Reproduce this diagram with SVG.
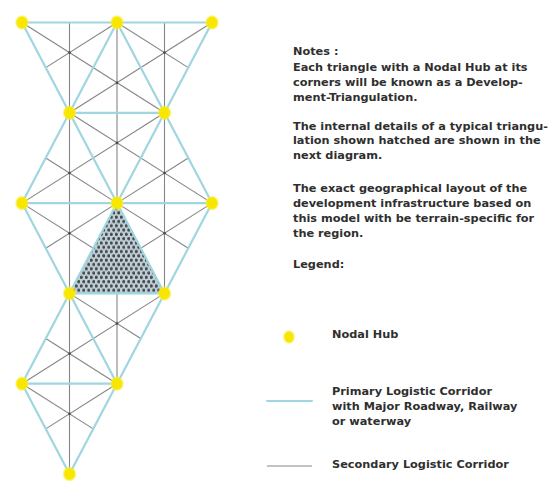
<svg xmlns="http://www.w3.org/2000/svg" width="556" height="481" viewBox="0 0 556 481">
<style>
.pri{stroke:#9fd6df;stroke-width:2.2;fill:none;stroke-linecap:round}
.sec{stroke:#858589;stroke-width:1.1;fill:none}
.cen{fill:#4a4a4e}
.hub{fill:url(#hubg)}
.t{font-family:"DejaVu Sans","Liberation Sans",sans-serif;font-weight:bold;font-size:11.3px;fill:#2f2f2f}
</style>
<defs>
<radialGradient id="hubg">
<stop offset="0" stop-color="#f7e600"/>
<stop offset="0.7" stop-color="#f8e800"/>
<stop offset="1" stop-color="#fbf060" stop-opacity="0.3"/>
</radialGradient>
<pattern id="dots" width="5" height="8.6" patternUnits="userSpaceOnUse">
<rect width="5" height="8.6" fill="#b9c9d1"/>
<circle cx="1.25" cy="2.15" r="1.6" fill="#353a40"/>
<circle cx="3.75" cy="6.45" r="1.6" fill="#353a40"/>
</pattern>
</defs>
<rect width="556" height="481" fill="#ffffff"/>
<g id="connectors">
<g id="secondary">
<line class="sec" x1="69.5" y1="22.5" x2="69.5" y2="474"/>
<line class="sec" x1="117" y1="22.5" x2="117" y2="383.7"/>
<line class="sec" x1="164.5" y1="22.5" x2="164.5" y2="293.4"/>
<line class="sec" x1="22" y1="22.5" x2="164.5" y2="112.8"/>
<line class="sec" x1="117" y1="22.5" x2="45.75" y2="67.65"/>
<line class="sec" x1="117" y1="22.5" x2="188.25" y2="67.65"/>
<line class="sec" x1="212" y1="22.5" x2="69.5" y2="112.8"/>
<line class="sec" x1="22" y1="203.1" x2="164.5" y2="112.8"/>
<line class="sec" x1="117" y1="203.1" x2="45.75" y2="157.95"/>
<line class="sec" x1="69.5" y1="112.8" x2="212" y2="203.1"/>
<line class="sec" x1="117" y1="203.1" x2="188.25" y2="157.95"/>
<line class="sec" x1="22" y1="203.1" x2="164.5" y2="293.4"/>
<line class="sec" x1="117" y1="203.1" x2="45.75" y2="248.25"/>
<line class="sec" x1="69.5" y1="293.4" x2="212" y2="203.1"/>
<line class="sec" x1="117" y1="203.1" x2="188.25" y2="248.25"/>
<line class="sec" x1="22" y1="383.7" x2="164.5" y2="293.4"/>
<line class="sec" x1="117" y1="383.7" x2="45.75" y2="338.55"/>
<line class="sec" x1="69.5" y1="293.4" x2="140.75" y2="338.55"/>
<line class="sec" x1="22" y1="383.7" x2="93.25" y2="428.85"/>
<line class="sec" x1="117" y1="383.7" x2="45.75" y2="428.85"/>
</g>
<g id="centroids">
<circle class="cen" cx="69.5" cy="52.6" r="1.3"/>
<circle class="cen" cx="164.5" cy="52.6" r="1.3"/>
<circle class="cen" cx="117" cy="82.7" r="1.3"/>
<circle class="cen" cx="69.5" cy="173" r="1.3"/>
<circle class="cen" cx="117" cy="142.9" r="1.3"/>
<circle class="cen" cx="164.5" cy="173" r="1.3"/>
<circle class="cen" cx="69.5" cy="233.2" r="1.3"/>
<circle class="cen" cx="164.5" cy="233.2" r="1.3"/>
<circle class="cen" cx="69.5" cy="353.6" r="1.3"/>
<circle class="cen" cx="117" cy="323.5" r="1.3"/>
<circle class="cen" cx="69.5" cy="413.8" r="1.3"/>
</g>
<polygon id="hatched" points="117,203.1 69.5,293.4 164.5,293.4" fill="url(#dots)" opacity="0.92"/>
<g id="primary">
<line class="pri" x1="22" y1="22.5" x2="212" y2="22.5"/>
<line class="pri" x1="69.5" y1="112.8" x2="164.5" y2="112.8"/>
<line class="pri" x1="22" y1="203.1" x2="212" y2="203.1"/>
<line class="pri" x1="69.5" y1="293.4" x2="164.5" y2="293.4"/>
<line class="pri" x1="22" y1="383.7" x2="117" y2="383.7"/>
<line class="pri" x1="22" y1="22.5" x2="164.5" y2="293.4"/>
<line class="pri" x1="212" y1="22.5" x2="22" y2="383.7"/>
<line class="pri" x1="117" y1="22.5" x2="22" y2="203.1"/>
<line class="pri" x1="117" y1="22.5" x2="212" y2="203.1"/>
<line class="pri" x1="22" y1="203.1" x2="117" y2="383.7"/>
<line class="pri" x1="212" y1="203.1" x2="69.5" y2="474"/>
<line class="pri" x1="22" y1="383.7" x2="69.5" y2="474"/>
</g>
</g>
<g id="hub-A0"><ellipse class="hub" cx="22" cy="22.5" rx="7" ry="7.5"/></g>
<g id="hub-B0"><ellipse class="hub" cx="117" cy="22.5" rx="7" ry="7.5"/></g>
<g id="hub-C0"><ellipse class="hub" cx="212" cy="22.5" rx="7" ry="7.5"/></g>
<g id="hub-A1"><ellipse class="hub" cx="69.5" cy="112.8" rx="7" ry="7.5"/></g>
<g id="hub-B1"><ellipse class="hub" cx="164.5" cy="112.8" rx="7" ry="7.5"/></g>
<g id="hub-A2"><ellipse class="hub" cx="22" cy="203.1" rx="7" ry="7.5"/></g>
<g id="hub-B2"><ellipse class="hub" cx="117" cy="203.1" rx="7" ry="7.5"/></g>
<g id="hub-C2"><ellipse class="hub" cx="212" cy="203.1" rx="7" ry="7.5"/></g>
<g id="hub-A3"><ellipse class="hub" cx="69.5" cy="293.4" rx="7" ry="7.5"/></g>
<g id="hub-B3"><ellipse class="hub" cx="164.5" cy="293.4" rx="7" ry="7.5"/></g>
<g id="hub-A4"><ellipse class="hub" cx="22" cy="383.7" rx="7" ry="7.5"/></g>
<g id="hub-B4"><ellipse class="hub" cx="117" cy="383.7" rx="7" ry="7.5"/></g>
<g id="hub-A5"><ellipse class="hub" cx="69.5" cy="474" rx="7" ry="7.5"/></g>
<g id="notes">
<text class="t" x="293" y="55">Notes :</text>
<text class="t" x="293" y="70.7">Each triangle with a Nodal Hub at its</text>
<text class="t" x="293" y="85.7">corners will be known as a Develop-</text>
<text class="t" x="293" y="100.7">ment-Triangulation.</text>
<text class="t" x="293" y="129.5">The internal details of a typical triangu-</text>
<text class="t" x="293" y="144.4">lation shown hatched are shown in the</text>
<text class="t" x="293" y="159.3">next diagram.</text>
<text class="t" x="293" y="191.7">The exact geographical layout of the</text>
<text class="t" x="293" y="206.7">development infrastructure based on</text>
<text class="t" x="293" y="221.7">this model with be terrain-specific for</text>
<text class="t" x="293" y="236.5">the region.</text>
<text class="t" x="293" y="268.3">Legend:</text>
</g>
<g id="legend">
<ellipse class="hub" cx="289" cy="337" rx="6" ry="7"/>
<text class="t" x="332" y="338">Nodal Hub</text>
<line class="pri" x1="267" y1="401" x2="312" y2="401"/>
<text class="t" x="332" y="395">Primary Logistic Corridor</text>
<text class="t" x="332" y="410">with Major Roadway, Railway</text>
<text class="t" x="332" y="425">or waterway</text>
<line class="sec" x1="267" y1="466" x2="312" y2="466"/>
<text class="t" x="332" y="468">Secondary Logistic Corridor</text>
</g>
</svg>
